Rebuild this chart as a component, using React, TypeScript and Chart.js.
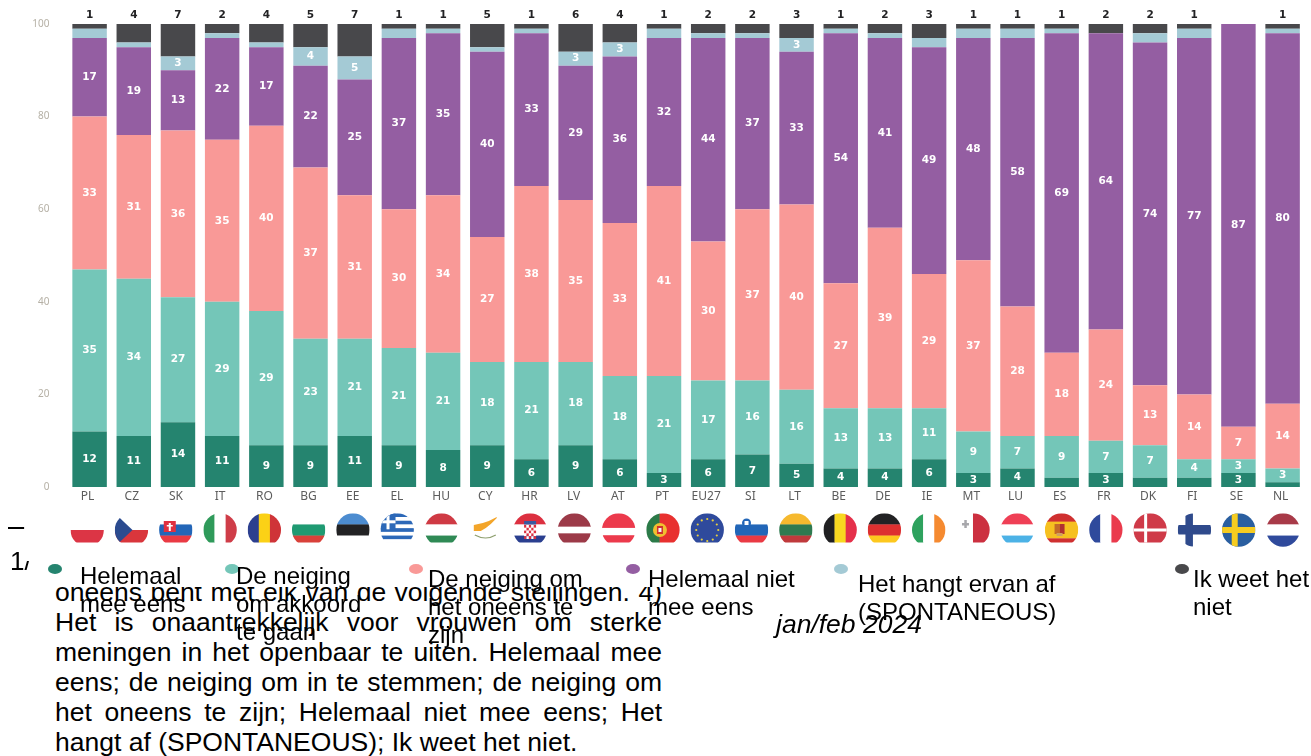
import React, { useEffect, useRef } from "react";
import { Chart, registerables } from "chart.js";

Chart.register(...registerables);

const categories = ["PL","CZ","SK","IT","RO","BG","EE","EL","HU","CY","HR","LV","AT","PT","EU27","SI","LT","BE","DE","IE","MT","LU","ES","FR","DK","FI","SE","NL"];
const helemaalMeeEens = [12,11,14,11,9,9,11,9,8,9,6,9,6,3,6,7,5,4,4,6,3,4,2,3,2,2,3,1];
const neigingAkkoord = [35,34,27,29,29,23,21,21,21,18,21,18,18,21,17,16,16,13,13,11,9,7,9,7,7,4,3,3];
const neigingOneens = [33,31,36,35,40,37,31,30,34,27,38,35,33,41,30,37,40,27,39,29,37,28,18,24,13,14,7,14];
const helemaalNiet = [17,19,13,22,17,22,25,37,35,40,33,29,36,32,44,37,33,54,41,49,48,58,69,64,74,77,87,80];
const hangtErvanAf = [2,1,3,1,1,4,5,2,1,1,1,3,3,2,1,1,3,1,1,2,2,2,1,0,2,2,0,1];
const weetNiet = [1,4,7,2,4,5,7,1,1,5,1,6,4,1,2,2,3,1,2,3,1,1,1,2,2,1,0,1];
const seriesValues = [helemaalMeeEens, neigingAkkoord, neigingOneens, helemaalNiet, hangtErvanAf, weetNiet];
const seriesColors = ["#25846f","#74c6b8","#f99997","#945ea2","#a4cad5","#48484b"];
const seriesLegend = [
  ["Helemaal","mee eens"],
  ["De neiging","om akkoord","te gaan"],
  ["De neiging om","het oneens te","zijn"],
  ["Helemaal niet","mee eens"],
  ["Het hangt ervan af","(SPONTANEOUS)"],
  ["Ik weet het","niet"],
];
const yTicks = [0,20,40,60,80,100];
const paragraphLines = [
  "oneens bent met elk van de volgende stellingen. 4)",
  "Het is onaantrekkelijk voor vrouwen om sterke",
  "meningen in het openbaar te uiten. Helemaal mee",
  "eens; de neiging om in te stemmen; de neiging om",
  "het oneens te zijn; Helemaal niet mee eens; Het",
  "hangt af (SPONTANEOUS); Ik weet het niet.",
];

const legendTextBoxes = [
  { left: 80, top: 561.5 },
  { left: 236, top: 561.5 },
  { left: 428, top: 565 },
  { left: 648, top: 565 },
  { left: 858, top: 570 },
  { left: 1193, top: 565 },
];
const legendDots = [55, 232, 416, 633, 841, 1182];

type Flag = { d: "h" | "v"; c: string[]; w?: number[] };
const R = "#dc3545", W = "#ffffff";
const flags: Record<string, Flag> = {
  PL: { d: "h", c: [W, R] },
  CZ: { d: "h", c: [W, "#d9363c"] },
  SK: { d: "h", c: [W, "#2366b8", "#ea3a44"] },
  IT: { d: "v", c: ["#2f9a5a", W, "#cf3d48"] },
  RO: { d: "v", c: ["#2c3f8f", "#fbd116", "#cf3438"] },
  BG: { d: "h", c: [W, "#1f9a72", "#d9413a"] },
  EE: { d: "h", c: ["#4c8cd0", "#222224", W] },
  EL: { d: "h", c: ["#2c68b8", W, "#2c68b8", W, "#2c68b8", W, "#2c68b8", W, "#2c68b8"] },
  HU: { d: "h", c: ["#cf3a44", W, "#2f8a55"] },
  CY: { d: "h", c: [W] },
  HR: { d: "h", c: ["#dc3040", W, "#2a3f8f"] },
  LV: { d: "h", c: ["#9c3a48", W, "#9c3a48"], w: [2, 1, 2] },
  AT: { d: "h", c: ["#ec3a4c", W, "#ec3a4c"], w: [14, 7, 11] },
  PT: { d: "v", c: ["#2b7a48", "#e8302f"], w: [2, 3] },
  EU27: { d: "h", c: ["#2f4a9c"] },
  SI: { d: "h", c: [W, "#2266b8", "#ea3a44"] },
  LT: { d: "h", c: ["#f6b92e", "#2f7a50", "#c03a3c"] },
  BE: { d: "v", c: ["#202022", "#f8d820", "#e5304a"] },
  DE: { d: "h", c: ["#222224", "#dd3030", "#fdc81e"] },
  IE: { d: "v", c: ["#2ea25e", W, "#f58a30"] },
  MT: { d: "v", c: [W, "#cc3040"] },
  LU: { d: "h", c: ["#ef3f55", W, "#4cb2e6"] },
  ES: { d: "h", c: ["#cf3030", "#f6c020", "#cf3030"], w: [1, 2, 1] },
  FR: { d: "v", c: ["#2f4a9c", W, "#ea3a4c"] },
  DK: { d: "h", c: ["#cf3a48"] },
  FI: { d: "h", c: [W] },
  SE: { d: "h", c: ["#2a5fa0"] },
  NL: { d: "h", c: ["#a83a48", W, "#2f4a9c"] },
};
const unclippedFlags = ["FI", "SE", "NL"];

function drawEmblem(c: CanvasRenderingContext2D, code: string, x: number, y: number, r: number) {
  const rect = (col: string, a: number, b: number, w: number, h: number) => {
    c.fillStyle = col;
    c.fillRect(x + a, y + b, w, h);
  };
  if (code === "CZ") {
    c.fillStyle = "#2b4b8f";
    c.beginPath();
    c.moveTo(x - r, y - r);
    c.lineTo(x + 1, y);
    c.lineTo(x - r, y + r);
    c.fill();
  } else if (code === "SK") {
    rect("#e03040", -12, -9, 12, 11);
    rect("#ffffff", -7, -7, 2, 8);
    rect("#ffffff", -9, -5, 6, 1.5);
    rect("#2366b8", -11, 2, 10, 3);
  } else if (code === "EL") {
    rect("#2c68b8", -r, -r, 15, 16);
    rect("#ffffff", -r + 6, -r, 3, 16);
    rect("#ffffff", -r, -r + 7, 15, 3);
  } else if (code === "CY") {
    c.fillStyle = "#f3a52a";
    c.beginPath();
    c.moveTo(x - 12, y - 5);
    c.lineTo(x - 3, y - 7);
    c.lineTo(x + 3, y - 9);
    c.lineTo(x + 13, y - 14);
    c.lineTo(x + 5, y - 6);
    c.lineTo(x, y - 2);
    c.lineTo(x - 5, y + 1);
    c.lineTo(x - 12, y + 1);
    c.fill();
    c.strokeStyle = "#8fa070";
    c.lineWidth = 1.2;
    c.beginPath();
    c.moveTo(x - 11, y + 5);
    c.quadraticCurveTo(x, y + 11, x + 10, y + 5);
    c.stroke();
  } else if (code === "HR") {
    for (let i = 0; i < 5; i++) for (let j = 0; j < 5; j++) rect((i + j) % 2 ? "#ffffff" : "#dc3040", -6 + i * 2.4, -5 + j * 2.8, 2.4, 2.8);
    rect("#3a5aa0", -6, -9, 12, 3.5);
  } else if (code === "PT") {
    c.fillStyle = "#f0c030";
    c.beginPath();
    c.arc(x - 3, y, 7, 0, 7);
    c.fill();
    rect("#d03030", -6, -4, 6, 8);
    rect("#f4f4f4", -4.5, -2, 3, 4);
  } else if (code === "EU27") {
    c.fillStyle = "#e8d040";
    for (let i = 0; i < 12; i++) {
      const a = (i * Math.PI) / 6;
      c.beginPath();
      c.arc(x + Math.cos(a) * 11, y + Math.sin(a) * 11, 1.1, 0, 7);
      c.fill();
    }
  } else if (code === "SI") {
    c.fillStyle = "#2266b8";
    c.beginPath();
    c.arc(x - 5, y - 7, 4.5, 0, 7);
    c.fill();
    rect("#ffffff", -7, -9, 4, 4);
  } else if (code === "MT") {
    rect("#a8a8ac", -11, -7, 7, 2.5);
    rect("#a8a8ac", -8.7, -10, 2.5, 8);
  } else if (code === "ES") {
    rect("#c46a28", -7, -6, 5, 10);
    rect("#b03030", -2, -6, 5, 10);
    rect("#d0a060", -5, 3, 6, 3);
  } else if (code === "DK") {
    rect("#ffffff", -r, -1.5, 2 * r, 3);
    rect("#ffffff", -6, -r, 3, 2 * r);
  } else if (code === "FI") {
    rect("#2f4a8c", -r, -5, 2 * r, 9.5);
    rect("#2f4a8c", -9, -r, 7.5, 2 * r);
  } else if (code === "SE") {
    rect("#f6cc20", -r, -3, 2 * r, 6);
    rect("#f6cc20", -7, -r, 6, 2 * r);
  }
}

function drawFlag(c: CanvasRenderingContext2D, code: string, x: number, y: number, r: number) {
  const f = flags[code];
  const weights = f.w || f.c.map(() => 1);
  const total = weights.reduce((a, b) => a + b, 0);
  c.save();
  if (!unclippedFlags.includes(code)) {
    c.beginPath();
    c.rect(x - r - 1, y - r - 1, 2 * r + 2, r + 13.5);
    c.clip();
  }
  c.beginPath();
  c.arc(x, y, r, 0, Math.PI * 2);
  c.clip();
  let pos = -r;
  f.c.forEach((col, i) => {
    const size = (2 * r * weights[i]) / total;
    c.fillStyle = col;
    if (f.d === "h") c.fillRect(x - r, y + pos, 2 * r, size + 0.3);
    else c.fillRect(x + pos, y - r, size + 0.3, 2 * r);
    pos += size;
  });
  drawEmblem(c, code, x, y, r);
  c.restore();
}

const chromePlugin = {
  id: "chrome",
  beforeDraw(chart: any) {
    const c = chart.ctx;
    c.save();
    c.fillStyle = "#ffffff";
    c.fillRect(0, 0, chart.width, chart.height);
    c.restore();
  },
  afterDatasetsDraw(chart: any) {
    const c = chart.ctx;
    c.save();
    c.textAlign = "center";
    c.textBaseline = "middle";
    c.font = "bold 10.5px 'DejaVu Sans'";
    chart.data.datasets.forEach((ds: any, di: number) => {
      const meta = chart.getDatasetMeta(di);
      meta.data.forEach((bar: any, i: number) => {
        const v = ds.data[i];
        if (di === 5) {
          if (v > 0) {
            c.fillStyle = "#222224";
            c.fillText(String(v), bar.x, chart.chartArea.top - 8.5);
          }
        } else if (v >= 3) {
          c.fillStyle = "#ffffff";
          c.fillText(String(v), bar.x, (bar.y + bar.base) / 2);
        }
      });
    });
    c.restore();
  },
  afterDraw(chart: any) {
    const c = chart.ctx;
    const xs = chart.scales.x;
    categories.forEach((code, i) => {
      const shift = -2.4 + (2.8 * i) / (categories.length - 1);
      drawFlag(c, code, xs.getPixelForValue(i) + shift, 530, 16.7);
    });
  },
};

const textFont = "'Liberation Sans', Arial, sans-serif";

export default function App() {
  const ref = useRef<HTMLCanvasElement>(null);
  useEffect(() => {
    if (!ref.current) return;
    const chart = new Chart(ref.current, {
      type: "bar",
      data: {
        labels: categories,
        datasets: seriesValues.map((data, i) => ({
          label: seriesLegend[i].join(" "),
          data,
          backgroundColor: seriesColors[i],
          borderWidth: 0,
          categoryPercentage: 1,
          barPercentage: 0.78,
        })),
      },
      options: {
        responsive: false,
        animation: false,
        devicePixelRatio: 1,
        layout: { padding: { top: 23, right: 6.3, left: 0, bottom: 0 } },
        plugins: { legend: { display: false }, tooltip: { enabled: false }, title: { display: false } },
        scales: {
          x: {
            stacked: true,
            grid: { display: false, drawTicks: false },
            border: { display: false },
            afterFit: (s: any) => { s.height = 100; },
            ticks: {
              color: "#5c5c5c",
              font: { family: "'Noto Sans'", size: 12 },
              padding: 2,
              labelOffset: -2,
              maxRotation: 0,
              autoSkip: false,
            },
          },
          y: {
            stacked: true,
            min: 0,
            max: 100,
            grid: { display: false, drawTicks: false },
            border: { display: false },
            afterFit: (s: any) => { s.width = 67.5; },
            afterBuildTicks: (s: any) => { s.ticks = yTicks.map((value) => ({ value })); },
            ticks: {
              color: "#b5b0a5",
              font: { family: "'Noto Sans'", size: 10 },
              padding: 18,
            },
          },
        },
      },
      plugins: [chromePlugin],
    } as any);
    return () => chart.destroy();
  }, []);

  return (
    <div style={{ position: "absolute", left: 0, top: 0, width: 1311, height: 756, overflow: "hidden", background: "#fff", fontFamily: textFont, color: "#000" }}>
      <div style={{ position: "absolute", left: 55, top: 576.5, width: 607, fontSize: 26.5, lineHeight: "30px", zIndex: 0 }}>
        {paragraphLines.map((line, i) => (
          <div key={i} style={{ whiteSpace: i < paragraphLines.length - 1 ? "normal" : "nowrap", textAlign: "justify", textAlignLast: i < paragraphLines.length - 1 ? "justify" : "left" }}>{line}</div>
        ))}
      </div>
      <canvas ref={ref} width={1311} height={587} style={{ position: "absolute", left: 0, top: 0, zIndex: 1, filter: "blur(0.4px)" }} />
      <div style={{ position: "absolute", left: 8, top: 510, fontSize: 29, lineHeight: "32px", zIndex: 2 }}>–</div>
      <div style={{ position: "absolute", left: 10, top: 546, fontSize: 26, lineHeight: "30px", zIndex: 2, clipPath: "polygon(0 0, 17px 0, 17px 15px, 23px 15px, 23px 100%, 0 100%)" }}>1/</div>
      {legendDots.map((x, i) => (
        <div key={i} style={{ position: "absolute", left: x - 7, top: 564, width: 14, height: 10, borderRadius: "50%", background: seriesColors[i], filter: "blur(0.7px)", zIndex: 2 }} />
      ))}
      {seriesLegend.map((lines, i) => (
        <div key={i} style={{ position: "absolute", left: legendTextBoxes[i].left, top: legendTextBoxes[i].top, fontSize: 24, lineHeight: "28px", whiteSpace: "nowrap", zIndex: 3 }}>
          {lines.map((l, j) => <div key={j}>{l}</div>)}
        </div>
      ))}
      <div style={{ position: "absolute", left: 776, top: 610, fontSize: 26.5, lineHeight: "28px", fontStyle: "italic", whiteSpace: "nowrap", zIndex: 3 }}>jan/feb 2024</div>
    </div>
  );
}
